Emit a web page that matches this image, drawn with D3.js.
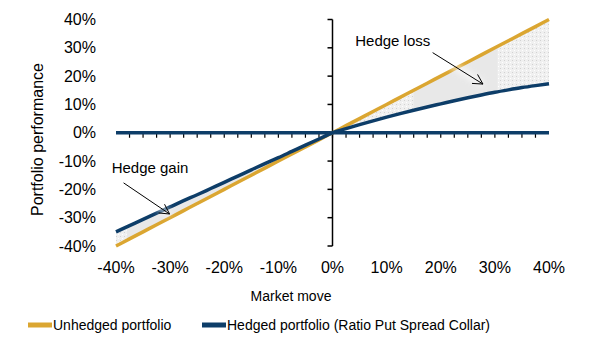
<!DOCTYPE html>
<html>
  <script src="https://d3js.org/d3.v7.min.js" type="text/JavaScript"></script>
  <style>
    body { margin: 0; background: #fff; }
    text { font-family: "Liberation Sans", Arial, sans-serif; fill: #000; }
  </style>
  <body>
    <svg></svg>
    <script>
// market move categories (%)
var marketMoves = [-40, -37.5, -35, -32.5, -30, -27.5, -25, -22.5, -20, -17.5, -15, -12.5, -10, -7.5, -5, -2.5,
  0, 2.5, 5, 7.5, 10, 12.5, 15, 17.5, 20, 22.5, 25, 27.5, 30, 32.5, 35, 37.5, 40];

// portfolio performance (%)
var unhedged = [-40, -37.5, -35, -32.5, -30, -27.5, -25, -22.5, -20, -17.5, -15, -12.5, -10, -7.5, -5, -2.5,
  0, 2.5, 5, 7.5, 10, 12.5, 15, 17.5, 20, 22.5, 25, 27.5, 30, 32.5, 35, 37.5, 40];
var hedged = [-35, -32.8, -30.6, -28.4, -26.2, -24.0, -21.9, -19.7, -17.5, -15.3, -13.1, -10.9, -8.8, -6.6, -4.4, -2.2,
  0, 1.45, 2.85, 4.2, 5.5, 6.75, 7.95, 9.1, 10.2, 11.3, 12.35, 13.35, 14.3, 15.15, 15.95, 16.65, 17.3];

var xTickValues = [-40, -30, -20, -10, 0, 10, 20, 30, 40];
var yTickValues = [-40, -30, -20, -10, 0, 10, 20, 30, 40];

// dotted bands inside the shaded gap
var dottedBands = [[-40, -38], [0, 15], [30.5, 40]];

var gold = '#dba631';
var navy = '#0d3d68';

var svg = d3.select('svg').attr('width', 600).attr('height', 344);

var x = d3.scaleLinear().domain([-40, 40]).range([116, 549]);
var y = d3.scaleLinear().domain([-40, 40]).range([246, 19.5]);

var rows = marketMoves.map((m, i) => ({ m: m, u: unhedged[i], h: hedged[i] }));

var defs = svg.append('defs');
var pat = defs.append('pattern')
  .attr('id', 'dots')
  .attr('patternUnits', 'userSpaceOnUse')
  .attr('width', 4).attr('height', 4);
pat.append('rect').attr('width', 4).attr('height', 4).attr('fill', '#f0f0f0');
pat.append('rect').attr('x', 0).attr('y', 0).attr('width', 1).attr('height', 1).attr('fill', '#d2d2d2');
pat.append('rect').attr('x', 2).attr('y', 2).attr('width', 1).attr('height', 1).attr('fill', '#ffffff');

var glow = defs.append('filter').attr('id', 'glow')
  .attr('x', '-30%').attr('y', '-30%').attr('width', '160%').attr('height', '160%');
glow.append('feGaussianBlur').attr('stdDeviation', 3);

// shaded gap between the two portfolios
var gap = d3.area()
  .curve(d3.curveMonotoneX)
  .x(d => x(d.m))
  .y0(d => y(d.u))
  .y1(d => y(d.h));

svg.append('path')
  .datum(rows)
  .attr('d', gap)
  .attr('fill', '#e8e8e8');

dottedBands.forEach((b, i) => {
  defs.append('clipPath').attr('id', 'band' + i)
    .append('rect')
    .attr('x', x(b[0])).attr('y', 0)
    .attr('width', x(b[1]) - x(b[0])).attr('height', 344);
  svg.append('path')
    .datum(rows)
    .attr('d', gap)
    .attr('fill', 'url(#dots)')
    .attr('clip-path', 'url(#band' + i + ')');
});

// y axis
var yAxis = svg.append('g').attr('transform', 'translate(' + x(0) + ',0)');
yAxis.append('line')
  .attr('y1', y(40)).attr('y2', y(-40))
  .attr('stroke', '#000').attr('stroke-width', 1.5);
yAxis.selectAll('.yt').data(yTickValues).enter().append('line')
  .attr('x1', -5).attr('x2', 0)
  .attr('y1', d => y(d)).attr('y2', d => y(d))
  .attr('stroke', '#000').attr('stroke-width', 1.5);

svg.selectAll('.ylab').data(yTickValues).enter().append('text')
  .attr('x', 96)
  .attr('y', d => y(d))
  .attr('dy', '0.35em')
  .attr('text-anchor', 'end')
  .style('font-size', '16px')
  .text(d => d + '%');

// x axis along zero
svg.selectAll('.xt').data(marketMoves.slice(1, -1)).enter().append('line')
  .attr('x1', d => x(d)).attr('x2', d => x(d))
  .attr('y1', y(0)).attr('y2', y(0) + 5)
  .attr('stroke', '#000').attr('stroke-width', 1.2);
svg.append('line')
  .attr('x1', x(-40)).attr('x2', x(40))
  .attr('y1', y(0)).attr('y2', y(0))
  .attr('stroke', navy).attr('stroke-width', 3.5);

svg.selectAll('.xlab').data(xTickValues).enter().append('text')
  .attr('x', d => x(d))
  .attr('y', 273)
  .attr('text-anchor', 'middle')
  .style('font-size', '16px')
  .text(d => d + '%');

// series lines
var line = key => d3.line().curve(d3.curveMonotoneX).x(d => x(d.m)).y(d => y(d[key]));

svg.append('path').datum(rows)
  .attr('d', line('u'))
  .attr('fill', 'none').attr('stroke', gold).attr('stroke-width', 3.5);
svg.append('path').datum(rows)
  .attr('d', line('h'))
  .attr('fill', 'none').attr('stroke', navy).attr('stroke-width', 3.5);

// annotations
var notes = [
  { label: 'Hedge loss', tx: 4.2, ty: 32.6, from: [18.5, 28.3], to: [27.8, 17.2] },
  { label: 'Hedge gain', tx: -40.8, ty: -12.4, from: [-38.6, -17.7], to: [-30.1, -28.7] }
];

notes.forEach(n => {
  var x1 = x(n.from[0]), y1 = y(n.from[1]), x2 = x(n.to[0]), y2 = y(n.to[1]);
  var ang = Math.atan2(y2 - y1, x2 - x1);
  var head = [ang + Math.PI - 0.5, ang + Math.PI + 0.5]
    .map(a => [x2 + 11 * Math.cos(a), y2 + 11 * Math.sin(a)]);

  svg.append('line')
    .attr('x1', x1).attr('y1', y1).attr('x2', x2).attr('y2', y2)
    .attr('stroke', '#ffffff').attr('stroke-width', 6)
    .attr('opacity', 0.7)
    .attr('filter', 'url(#glow)');

  svg.append('line')
    .attr('x1', x1).attr('y1', y1).attr('x2', x2).attr('y2', y2)
    .attr('stroke', '#000').attr('stroke-width', 1);
  svg.append('path')
    .attr('d', 'M' + head[0] + 'L' + x2 + ',' + y2 + 'L' + head[1])
    .attr('fill', 'none').attr('stroke', '#000').attr('stroke-width', 1);

  svg.append('text')
    .attr('x', x(n.tx)).attr('y', y(n.ty))
    .attr('dy', '0.35em')
    .style('font-size', '15px')
    .text(n.label);
});

// axis titles
svg.append('text')
  .attr('x', 291).attr('y', 301)
  .attr('text-anchor', 'middle')
  .style('font-size', '14px')
  .text('Market move');

svg.append('text')
  .attr('transform', 'translate(43,139.5) rotate(-90)')
  .attr('text-anchor', 'middle')
  .style('font-size', '16px')
  .text('Portfolio performance');

// legend
var legend = [
  { name: 'Unhedged portfolio', color: gold, x: 28 },
  { name: 'Hedged portfolio (Ratio Put Spread Collar)', color: navy, x: 202 }
];
var lg = svg.selectAll('.lg').data(legend).enter().append('g')
  .attr('transform', d => 'translate(' + d.x + ',325)');
lg.append('line')
  .attr('x1', 0).attr('x2', 24)
  .attr('stroke', d => d.color).attr('stroke-width', 5);
lg.append('text')
  .attr('x', 25).attr('dy', '0.35em')
  .style('font-size', '14px')
  .text(d => d.name);
    </script>
  </body>
</html>
